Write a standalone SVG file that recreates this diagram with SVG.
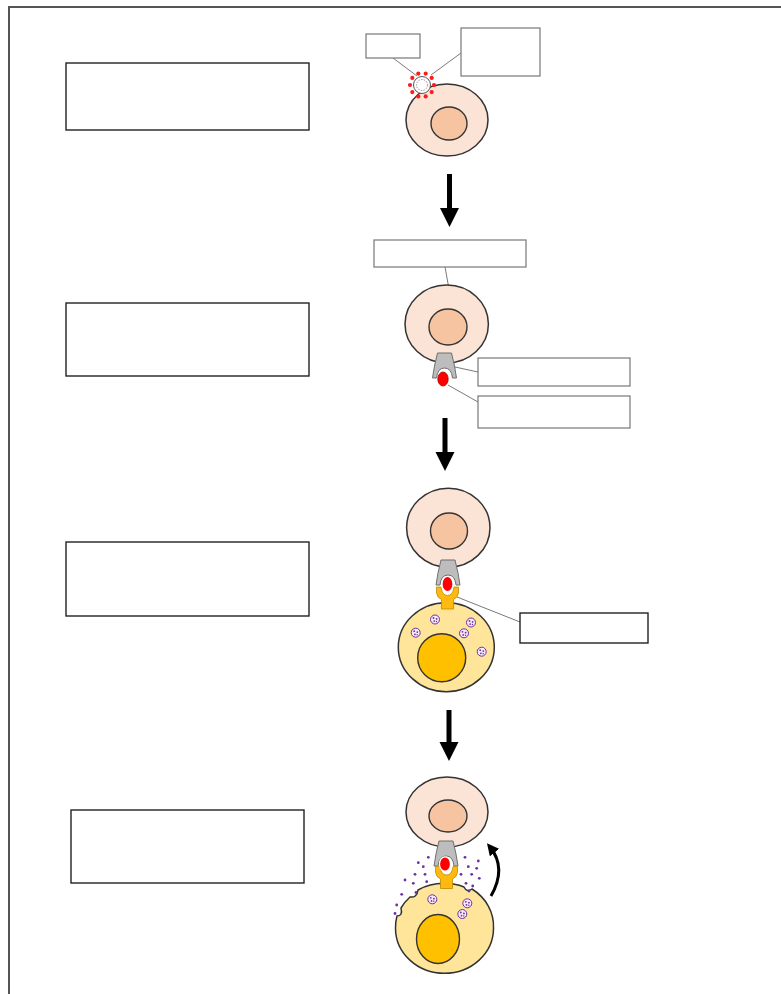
<svg xmlns="http://www.w3.org/2000/svg" width="781" height="994" viewBox="0 0 781 994">
  <style>
    .frame { fill: none; stroke: #555; stroke-width: 2; }
    .box { fill: #fff; stroke: #222; stroke-width: 1.4; }
    .lbl { fill: #fff; stroke: #777; stroke-width: 1.2; }
    .lead { fill: none; stroke: #7a7a7a; stroke-width: 1; }
    .cell { fill: #FBE3D5; stroke: #333; stroke-width: 1.5; }
    .nuc { fill: #F7C4A2; stroke: #333; stroke-width: 1.4; }
    .ycell { fill: #FFE59A; stroke: #333; stroke-width: 1.5; }
    .ynuc { fill: #FFC000; stroke: #333; stroke-width: 1.4; }
    .rec { fill: #BDBDBD; stroke: #6f6f6f; stroke-width: 1; }
    .ag { fill: #FF0000; stroke: #fff; stroke-width: 1.2; }
    .ag-free { fill: #FF0000; stroke: #B00000; stroke-width: 0.8; }
    .yrec { fill: #FFB90F; stroke: #C08A00; stroke-width: 0.8; }
    .gran { fill: #F4EAF8; stroke: #7030A0; stroke-width: 1; }
    .dot { fill: #7030A0; }
    .arrow { fill: #000; }
  </style>
  <defs>
    <!-- granule with purple speckles -->
    <g id="granule">
      <circle class="gran" cx="0" cy="0" r="4.5"/>
      <circle class="dot" cx="-1.5" cy="-1.5" r="0.9"/>
      <circle class="dot" cx="1.6" cy="-0.6" r="0.9"/>
      <circle class="dot" cx="-0.8" cy="1.6" r="0.9"/>
      <circle class="dot" cx="1.5" cy="2" r="0.7"/>
    </g>
    <!-- grey receptor cup, origin at top centre -->
    <path id="receptor" class="rec" d="M-7,0 L7,0 L10,13 L12,25 L8,25 Q7,15 0,15 Q-7,15 -8,25 L-12,25 L-10,13 Z"/>
    <!-- yellow Y-shaped receptor, origin at top centre -->
    <path id="yrec" class="yrec" d="M-11,0 L-6.5,0 Q-5.5,8.5 0,8.5 Q5.5,8.5 6.5,0 L11,0 L11,6 Q10,11 6,12.5 L6,22 L-6,22 L-6,12.5 Q-10,11 -11,6 Z"/>
    <marker id="curveHead" viewBox="0 0 10 10" refX="6" refY="5" markerWidth="4" markerHeight="4" orient="auto">
      <path d="M0,0 L10,5 L0,10 Z" fill="#000"/>
    </marker>
  </defs>

  <!-- outer frame -->
  <path class="frame" d="M9,1000 L9,7 L790,7"/>

  <!-- description boxes -->
  <g id="box-step1"><rect class="box" x="66" y="63" width="243" height="67"/></g>
  <g id="box-step2"><rect class="box" x="66" y="303" width="243" height="73"/></g>
  <g id="box-step3"><rect class="box" x="66" y="542" width="243" height="74"/></g>
  <g id="box-step4"><rect class="box" x="71" y="810" width="233" height="73"/></g>

  <!-- leader lines and step arrows -->
  <g id="connectors">
    <line class="lead" x1="393" y1="58" x2="417" y2="76"/>
    <line class="lead" x1="461" y1="53" x2="431" y2="75"/>
    <line class="lead" x1="445" y1="267" x2="451" y2="300"/>
    <line class="lead" x1="455" y1="367" x2="478" y2="372"/>
    <line class="lead" x1="448" y1="385" x2="478" y2="402"/>
    <line class="lead" x1="457" y1="597" x2="520" y2="622"/>
    <path class="arrow" d="M447,174 L452,174 L452,208 L459,208 L449.5,227 L440,208 L447,208 Z"/>
    <path class="arrow" d="M442.5,418 L447.5,418 L447.5,452 L454.5,452 L445,471 L435.5,452 L442.5,452 Z"/>
    <path class="arrow" d="M446.5,710 L451.5,710 L451.5,742 L458.5,742 L449,761 L439.5,742 L446.5,742 Z"/>
    <path d="M491,896 Q507,868 490,847" fill="none" stroke="#000" stroke-width="3" marker-end="url(#curveHead)"/>
  </g>

  <!-- step 1: virus meeting a cell -->
  <g id="cell1">
    <ellipse class="cell" cx="447" cy="120" rx="41" ry="36"/>
    <ellipse class="nuc" cx="449" cy="123.5" rx="18" ry="16.5"/>
  </g>
  <g id="virus">
    <circle cx="422" cy="85" r="8.5" fill="#fff" stroke="#555" stroke-width="1"/>
    <circle cx="422" cy="85" r="5.5" fill="none" stroke="#777" stroke-width="0.8" stroke-dasharray="1.5 1.2"/>
    <g fill="#FF1A1A">
      <circle cx="434" cy="85" r="2.1"/>
      <circle cx="431.7" cy="92.1" r="2.1"/>
      <circle cx="425.7" cy="96.4" r="2.1"/>
      <circle cx="418.3" cy="96.4" r="2.1"/>
      <circle cx="412.3" cy="92.1" r="2.1"/>
      <circle cx="410" cy="85" r="2.1"/>
      <circle cx="412.3" cy="77.9" r="2.1"/>
      <circle cx="418.3" cy="73.6" r="2.1"/>
      <circle cx="425.7" cy="73.6" r="2.1"/>
      <circle cx="431.7" cy="77.9" r="2.1"/>
    </g>
  </g>
  <g id="label-virus-a"><rect class="lbl" x="366" y="34" width="54" height="24"/></g>
  <g id="label-virus-b"><rect class="lbl" x="461" y="28" width="79" height="48"/></g>

  <!-- step 2: cell presenting antigen -->
  <g id="cell2">
    <ellipse class="cell" cx="446.7" cy="324" rx="41.7" ry="39"/>
    <ellipse class="nuc" cx="448" cy="327" rx="19" ry="18"/>
    <use href="#receptor" x="444.5" y="353"/>
    <ellipse class="ag-free" cx="443" cy="379" rx="5.2" ry="7"/>
  </g>
  <g id="label-cell2"><rect class="lbl" x="374" y="240" width="152" height="27"/></g>
  <g id="label-receptor"><rect class="lbl" x="478" y="358" width="152" height="28"/></g>
  <g id="label-antigen"><rect class="lbl" x="478" y="396" width="152" height="32"/></g>

  <!-- step 3: binding to a granulated cell -->
  <g id="cell3-top">
    <ellipse class="cell" cx="448.3" cy="527.7" rx="41.7" ry="39.5"/>
    <ellipse class="nuc" cx="449" cy="531" rx="18.5" ry="18"/>
    <use href="#receptor" x="448" y="560"/>
  </g>
  <g id="cell3-bottom">
    <ellipse class="ycell" cx="446.3" cy="647.2" rx="48" ry="44.5"/>
    <ellipse class="ynuc" cx="441.7" cy="657.8" rx="24" ry="24"/>
    <use href="#yrec" x="447.5" y="587"/>
    <use href="#granule" x="435" y="619.5"/>
    <use href="#granule" x="471" y="622.5"/>
    <use href="#granule" x="415.7" y="632.7"/>
    <use href="#granule" x="464" y="633.3"/>
    <use href="#granule" x="481.7" y="651.7"/>
  </g>
  <g id="antigen3"><ellipse class="ag" cx="447.5" cy="584" rx="5.5" ry="7.5"/></g>
  <g id="label-yrec"><rect class="box" x="520" y="613" width="128" height="30"/></g>

  <!-- step 4: degranulation -->
  <g id="cell4-top">
    <ellipse class="cell" cx="447" cy="812" rx="41" ry="35"/>
    <ellipse class="nuc" cx="448" cy="816" rx="19" ry="16"/>
    <use href="#receptor" x="446" y="841"/>
  </g>
  <g id="cell4-bottom">
    <path class="ycell" d="M444.5,883.3 A49,45 0 0 1 464,887 Q467,893 472,889 A49,45 0 0 1 493.5,928.3 A49,45 0 0 1 444.5,973.3 A49,45 0 0 1 395.5,928.3 A49,45 0 0 1 397,916 Q403,916 401,908 A49,45 0 0 1 410,897 Q417,898 418,890 A49,45 0 0 1 444.5,883.3 Z"/>
    <ellipse class="ynuc" cx="438" cy="939" rx="21.5" ry="24.5"/>
    <use href="#yrec" x="446.5" y="866.5"/>
    <use href="#granule" x="432.3" y="899.3"/>
    <use href="#granule" x="467.3" y="903.3"/>
    <use href="#granule" x="462.3" y="914"/>
  </g>
  <g id="antigen4"><ellipse class="ag" cx="445" cy="864" rx="5.5" ry="7.2"/></g>
  <g id="mediators" fill="#7030A0">
    <circle cx="418.3" cy="862.7" r="1.4"/>
    <circle cx="428.3" cy="857.3" r="1.4"/>
    <circle cx="423.3" cy="866.7" r="1.4"/>
    <circle cx="415" cy="874.3" r="1.4"/>
    <circle cx="425" cy="874.3" r="1.4"/>
    <circle cx="413.3" cy="883.3" r="1.4"/>
    <circle cx="426.7" cy="881.7" r="1.4"/>
    <circle cx="405" cy="880" r="1.4"/>
    <circle cx="401.7" cy="894.3" r="1.4"/>
    <circle cx="396.7" cy="905" r="1.4"/>
    <circle cx="395" cy="913.5" r="1.4"/>
    <circle cx="416" cy="892.5" r="1.4"/>
    <circle cx="465" cy="857.3" r="1.4"/>
    <circle cx="478.3" cy="861" r="1.4"/>
    <circle cx="468.3" cy="866.7" r="1.4"/>
    <circle cx="476.7" cy="868.3" r="1.4"/>
    <circle cx="461" cy="874.3" r="1.4"/>
    <circle cx="471.7" cy="874.3" r="1.4"/>
    <circle cx="479.3" cy="878.3" r="1.4"/>
    <circle cx="466" cy="883.3" r="1.4"/>
    <circle cx="472.7" cy="886" r="1.4"/>
    <circle cx="469" cy="891" r="1.4"/>
  </g>
</svg>
